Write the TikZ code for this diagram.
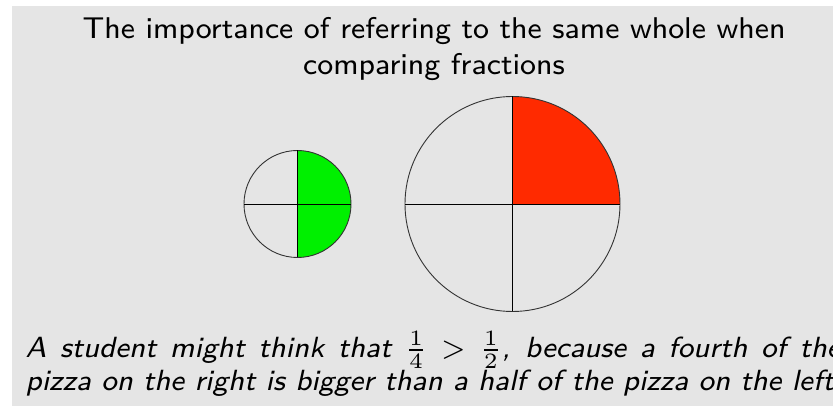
\documentclass[tikz,border=0pt]{standalone}
\usepackage{fontspec}
\definecolor{bg}{HTML}{E5E5E5}
\definecolor{pizzagreen}{HTML}{00F000}
\definecolor{pizzared}{HTML}{FF2A00}
\tikzset{
  ttl/.style={font=\sffamily\fontsize{8}{10}\selectfont, scale=3.75, anchor=base, inner sep=0pt},
  captxt/.style={font=\sffamily\itshape\fontsize{8}{10}\selectfont, scale=3.65, anchor=base west, inner sep=0pt},
  pizza/.style={draw=black!80, line width=0.9pt},
  cutline/.style={draw=black, line width=0.9pt}
}
\begin{document}
\begin{tikzpicture}[x=1pt,y=1pt]
\useasboundingbox (0,0) rectangle (833,406);
\fill[bg] (12,0) rectangle (833,400);
\node[ttl] (t1) at (434,367.5) {The importance of referring to the same whole when};
\node[ttl] (t2) at (434,331) {comparing fractions};
\coordinate (s) at (297.5,202);
\coordinate (b) at (512.5,202);
\fill[pizzagreen] (s) -- ++(0,53.5) arc[start angle=90,end angle=-90,radius=53.5] -- cycle;
\fill[pizzared] (b) -- ++(107.5,0) arc[start angle=0,end angle=90,radius=107.5] -- cycle;
\draw[pizza] (s) circle[radius=53.5];
\draw[cutline] ([xshift=-53.5pt]s) -- ([xshift=53.5pt]s);
\draw[cutline] ([yshift=-53.5pt]s) -- ([yshift=53.5pt]s);
\draw[pizza] (b) circle[radius=107.5];
\draw[cutline] ([xshift=-107.5pt]b) -- ([xshift=107.5pt]b);
\draw[cutline] ([yshift=-107.5pt]b) -- ([yshift=107.5pt]b);
\node[captxt] (c1) at (25,48.5) {\makebox[223.3pt][s]{A student might think that $\frac{1}{4} > \frac{1}{2}$, because a fourth of the}};
\node[captxt] (c2) at (25,15) {pizza on the right is bigger than a half of the pizza on the left};
\end{tikzpicture}
\end{document}
